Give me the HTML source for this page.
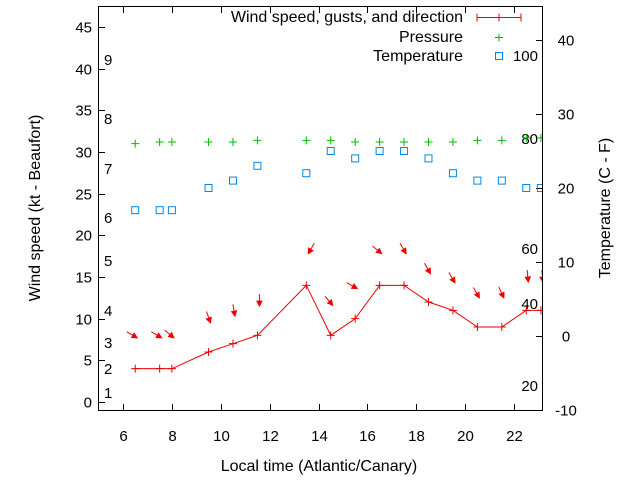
<!DOCTYPE html>
<html><head><meta charset="utf-8"><style>
body{margin:0;background:#fff;}
svg{display:block;font-family:"Liberation Sans",sans-serif;font-size:15px;}
.t{font-size:16px;}
</style></head><body>
<svg id="chart" width="640" height="480" viewBox="0 0 640 480">
<rect x="98.5" y="6.5" width="444" height="404" fill="none" stroke="#000"/>
<g id="ticks"></g>
<g id="series"></g>
<text class="t" x="40" y="208" transform="rotate(-90 40 208)" text-anchor="middle">Wind speed (kt - Beaufort)</text>
<text class="t" x="610" y="208" transform="rotate(-90 610 208)" text-anchor="middle">Temperature (C - F)</text>
<text class="t" x="319" y="471" text-anchor="middle">Local time (Atlantic/Canary)</text>
<g>
<text class="t" x="463" y="22" text-anchor="end">Wind speed, gusts, and direction</text>
<path d="M477 17.5H521M477 13.5v8M499 13.5v8M521 13.5v8" stroke="#e00" fill="none"/>
<text class="t" x="463" y="42" text-anchor="end">Pressure</text>
<path d="M495 37.5h8M499 33.5v8" stroke="#0b0"/>
<text class="t" x="463" y="61" text-anchor="end">Temperature</text>
<rect x="495.5" y="52.5" width="7" height="7" fill="none" stroke="#08e"/>
</g>
</svg>
<script>
const times=[6.5,7.5,8,9.5,10.5,11.5,13.5,14.5,15.5,16.5,17.5,18.5,19.5,20.5,21.5,22.5,23.1];
const wind=[4,4,4,6,7,8,14,8,10,14,14,12,11,9,9,11,11];
const gust=[7.7,7.7,7.7,9.5,10.3,11.5,17.8,11.6,13.6,17.8,17.8,15.4,14.3,12.5,12.5,14.4,14.4];
const dir=[300,300,310,340,350,0,30,320,300,310,330,330,330,330,335,355,355];
const pressure=[31.0,31.2,31.2,31.2,31.2,31.4,31.4,31.4,31.2,31.2,31.2,31.2,31.2,31.4,31.4,31.7,31.7];
const temp=[17,17,17,20,21,23,22,25,24,25,25,24,22,21,21,20,20];
const xTicks=[6,8,10,12,14,16,18,20,22];
const yTicks=[0,5,10,15,20,25,30,35,40,45];
const y2Ticks=[-10,0,10,20,30,40];
const beaufort=[[1,393],[2,369],[3,343],[4,311],[5,261],[6,218],[7,169],[8,119],[9,60]];
const fahr=[["100",56],["80",139],["60",249],["40",304],["20",386]];
const X=t=>123+(t-6)*24.44, Y=v=>402-v*8.333, Y2=v=>336-v*7.4;
const NS="http://www.w3.org/2000/svg";
function mk(tag,attrs,parent,txt){const e=document.createElementNS(NS,tag);for(const k in attrs)e.setAttribute(k,attrs[k]);if(txt!=null)e.textContent=txt;parent.appendChild(e);return e;}
const tg=document.getElementById('ticks'), sg=document.getElementById('series');
xTicks.forEach(t=>{const x=Math.round(X(t))+.5;
 let p=mk('path',{d:`M${x} 410V404M${x} 7V13`,stroke:'#000'},tg);
 
 let l=mk('text',{x:x,y:441,'text-anchor':'middle'},tg,t);
 });
yTicks.forEach(v=>{const y=Math.round(Y(v))+.5;
 let p=mk('path',{d:`M99 ${y}H105`,stroke:'#000'},tg);
 
 let l=mk('text',{x:92,y:y+5,'text-anchor':'end'},tg,v);
 });
y2Ticks.forEach(v=>{const y=Math.round(Y2(v))+.5;
 let p=mk('path',{d:`M542 ${y}H536`,stroke:'#000'},tg);
 
 let l=mk('text',{x:566,y:y+5,'text-anchor':'middle'},tg,v);
 });
beaufort.forEach(b=>{let l=mk('text',{x:104,y:b[1]+5},tg,b[0]);
 });
fahr.forEach(f=>{let l=mk('text',{x:538,y:f[1]+5,'text-anchor':'end'},tg,f[0]);
 });
const clip=mk('clipPath',{id:'pc'},sg);mk('rect',{x:99,y:7,width:443,height:403},clip);
const g=mk('g',{'clip-path':'url(#pc)'},sg);
let line=mk('polyline',{points:times.map((t,i)=>X(t)+','+Y(wind[i])).join(' ')+' '+X(24)+','+Y(wind[wind.length-1]),fill:'none',stroke:'#e00'},g);

times.forEach((t,i)=>{const x=X(t),y=Y(wind[i]);
 let p=mk('path',{d:`M${x-4} ${y}h8M${x} ${y-4}v8`,stroke:'#e00'},g);
 
 const a=dir[i]*Math.PI/180, tx=X(t)+2, ty=Y(gust[i]);
 const L=12, sx=tx+Math.sin(a)*L, sy=ty-Math.cos(a)*L;
 const ux=(tx-sx)/L, uy=(ty-sy)/L;
 let ar=mk('path',{d:`M${sx} ${sy}L${tx} ${ty}M${tx} ${ty}L${tx-ux*5-uy*2.5} ${ty-uy*5+ux*2.5}L${tx-ux*5+uy*2.5} ${ty-uy*5-ux*2.5}Z`,stroke:'#e00',fill:'#e00','stroke-width':1},g);
 
 const py=Y(pressure[i]);
 let pp=mk('path',{d:`M${x-4} ${py}h8M${x} ${py-4}v8`,stroke:'#0b0'},g);
 
 const ty2=Y2(temp[i]);
 let r=mk('rect',{x:x-3.5,y:ty2-3.5,width:7,height:7,fill:'none',stroke:'#08e'},g);
 
});
</script>
</body></html>
